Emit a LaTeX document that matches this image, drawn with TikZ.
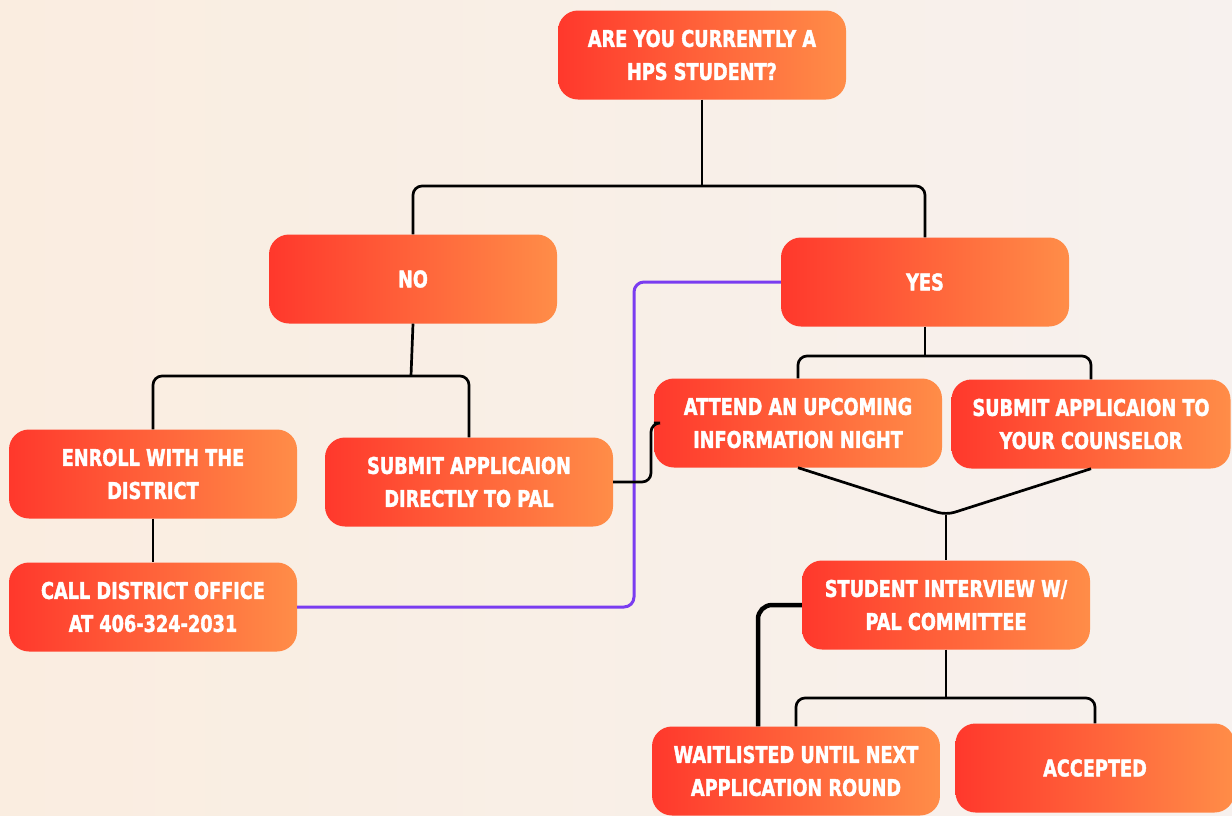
\documentclass[tikz,border=0pt]{standalone}
\usepackage{fontspec}
\newfontfamily\boxfont{DejaVu Sans}[FakeStretch=0.77,FakeBold=1.6]

\definecolor{boxRed}{RGB}{255,56,44}
\definecolor{boxOrange}{RGB}{255,141,72}
\definecolor{palPurple}{RGB}{122,60,240}
\definecolor{bgPeach}{RGB}{250,237,224}
\definecolor{bgGrey}{RGB}{247,241,238}

\begin{document}
\begin{tikzpicture}[x=1pt,y=-1pt,
        boxNode/.style = {rectangle,rounded corners=20pt,left color=boxRed,right color=boxOrange,text=white,
            font=\boxfont\bfseries\fontsize{23}{33}\selectfont,align=center,
            minimum width=288pt,minimum height=89pt,inner sep=0pt},
        shortBox/.style = {boxNode,minimum width=279pt},
        link/.style = {draw=black,line width=2.7pt,rounded corners=9pt},
        thickLink/.style = {link,line width=4.5pt,rounded corners=14pt},
        palLink/.style = {draw=palPurple,line width=3pt,rounded corners=10pt}
        ]
    \shade[left color=bgPeach,right color=bgGrey] (0,0) rectangle (1232,815);
    \useasboundingbox (0,0) rectangle (1232,815);
    \clip (0,0) rectangle (1232,815);

    % boxes
    \node[boxNode] (question) at (702,55) {ARE YOU CURRENTLY A\\HPS STUDENT?};
    \node[boxNode] (no) at (413,279) {NO};
    \node[boxNode] (yes) at (925,282) {YES};
    \node[boxNode] (enroll) at (153,474) {ENROLL WITH THE\\DISTRICT};
    \node[boxNode] (direct) at (469,482) {SUBMIT APPLICAION\\DIRECTLY TO PAL};
    \node[boxNode] (call) at (153,607) {CALL DISTRICT OFFICE\\AT 406-324-2031};
    \node[boxNode] (attend) at (798,423) {ATTEND AN UPCOMING\\INFORMATION NIGHT};
    \node[shortBox] (counsel) at (1091,424) {SUBMIT APPLICAION TO\\YOUR COUNSELOR};
    \node[boxNode] (interview) at (946,605) {STUDENT INTERVIEW W/\\PAL COMMITTEE};
    \node[boxNode] (wait) at (796,771) {WAITLISTED UNTIL NEXT\\APPLICATION ROUND};
    \node[shortBox] (accepted) at (1095,768) {ACCEPTED};

    % split points
    \coordinate (qSplit) at (702,186);
    \coordinate (noSplit) at (411,376);
    \coordinate (yesSplit) at (925,356);
    \coordinate (mergePt) at (946,515);
    \coordinate (intSplit) at (946,698);
    \coordinate (purpleTurn) at (634,444);
    \coordinate (attendJog) at (651,450);

    \draw[link] (question.south) -- (qSplit);
    \draw[link] (no.north) |- (qSplit) -| (yes.north);
    \draw[link] (no.south) -- (noSplit);
    \draw[link] (enroll.north) |- (noSplit) -| (direct.north);
    \draw[link] (enroll.south) -- (call.north);
    \draw[palLink] (call.east) -| (purpleTurn) |- (yes.west);
    \draw[link] (direct.east) -| (attendJog) |- (attend.west);
    \draw[link] (yes.south) -- (yesSplit);
    \draw[link] (attend.north) |- (yesSplit) -| (counsel.north);
    \draw[link] (attend.south) -- (mergePt) -- (counsel.south);
    \draw[link] (mergePt) -- (interview.north);
    \draw[link] (interview.south) -- (intSplit);
    \draw[link] (wait.north) |- (intSplit) -| (accepted.north);
    \draw[thickLink] (interview.west) -| ([xshift=-38pt]wait.north);
\end{tikzpicture}
\end{document}
